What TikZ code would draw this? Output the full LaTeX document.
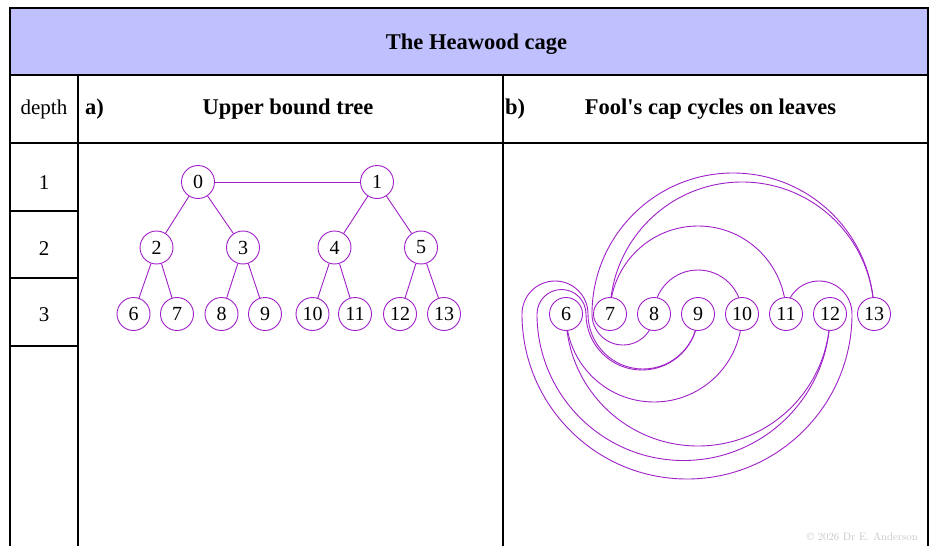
\documentclass[tikz,border=0pt]{standalone}
\usepackage{fontspec}
\newfontfamily\tnr{Liberation Serif}
\usetikzlibrary{backgrounds}
\definecolor{purp}{RGB}{160,32,200}
\definecolor{headfill}{RGB}{192,192,255}
\definecolor{notegray}{RGB}{200,200,200}
\begin{document}
\begin{tikzpicture}[x=1pt,y=-1pt,
  frame/.style={line width=2.4pt, black},
  edge/.style={draw=purp, line width=0.9pt},
  vtx/.style={circle, draw=purp, fill=white, line width=0.9pt, minimum size=33pt,
    inner sep=0pt, font=\tnr\fontsize{20}{20}\selectfont},
  hdr/.style={inner sep=0pt, font=\tnr\bfseries\fontsize{22.5}{27}\selectfont},
  plain/.style={inner sep=0pt, font=\tnr\fontsize{21}{24}\selectfont}]
\useasboundingbox (0,0) rectangle (930,546);

% table text
\node[hdr] (title) at (476.5,44) {The Heawood cage};
\node[plain] (depthhead) at (44,109.5) {depth};
\node[hdr, anchor=west] (tagA) at (85,109.5) {a)};
\node[hdr] (headA) at (288,109.5) {Upper bound tree};
\node[hdr, anchor=west] (tagB) at (505,109.5) {b)};
\node[hdr] (headB) at (710.5,109.5) {Fool's cap cycles on leaves};
\node[plain] (d1) at (44,183) {1};
\node[plain] (d2) at (44,248.5) {2};
\node[plain] (d3) at (44,314.5) {3};
\node[anchor=south east, inner sep=0pt, text=notegray,
  font=\fontsize{10.8}{12}\selectfont] (note) at (918,541) {\textcopyright{} 2026 Dr E. Anderson};

% a) upper bound tree
\node[vtx] (a0) at (198,182) {0};
\node[vtx] (a1) at (377,182) {1};
\node[vtx] (a2) at (156.5,247.5) {2};
\node[vtx] (a3) at (243,247.5) {3};
\node[vtx] (a4) at (334.5,247.5) {4};
\node[vtx] (a5) at (421,247.5) {5};
\node[vtx] (a6) at (133.5,314) {6};
\node[vtx] (a7) at (177,314) {7};
\node[vtx] (a8) at (221.5,314) {8};
\node[vtx] (a9) at (265,314) {9};
\node[vtx] (a10) at (312.5,314) {10};
\node[vtx] (a11) at (355,314) {11};
\node[vtx] (a12) at (400,314) {12};
\node[vtx] (a13) at (444,314) {13};
\draw[edge] (a0) -- (a1);
\draw[edge] (a0) -- (a2);
\draw[edge] (a0) -- (a3);
\draw[edge] (a1) -- (a4);
\draw[edge] (a1) -- (a5);
\draw[edge] (a2) -- (a6);
\draw[edge] (a2) -- (a7);
\draw[edge] (a3) -- (a8);
\draw[edge] (a3) -- (a9);
\draw[edge] (a4) -- (a10);
\draw[edge] (a4) -- (a11);
\draw[edge] (a5) -- (a12);
\draw[edge] (a5) -- (a13);

% b) leaves joined by half-circle chains
\node[vtx] (b6) at (566,314) {6};
\node[vtx] (b7) at (610,314) {7};
\node[vtx] (b8) at (654,314) {8};
\node[vtx] (b9) at (698,314) {9};
\node[vtx] (b10) at (742,314) {10};
\node[vtx] (b11) at (786,314) {11};
\node[vtx] (b12) at (830,314) {12};
\node[vtx] (b13) at (874,314) {13};

\begin{scope}[on background layer]
  \fill[white] (0,0) rectangle (930,546);
  % header band and grid
  \fill[headfill] (10,8) rectangle (928,75);
  \draw[frame] (10,546) -- (10,8) -- (928,8) -- (928,546);
  \draw[frame] (10,75) -- (928,75);
  \draw[frame] (10,143) -- (928,143);
  \draw[frame] (78,75) -- (78,546);
  \draw[frame] (503,75) -- (503,546);
  \draw[frame] (10,211) -- (78,211);
  \draw[frame] (10,278) -- (78,278);
  \draw[frame] (10,346) -- (78,346);

  % arcs above the row
  \draw[edge] (b8.center) arc[start angle=180, end angle=360, radius=44];
  \draw[edge] (b7.center) arc[start angle=180, end angle=360, radius=88];
  \draw[edge] (b7.center) arc[start angle=180, end angle=360, radius=132];
  \draw[edge] (b13.center) arc[start angle=0, end angle=-180, radius=141]
                           arc[start angle=180, end angle=0, radius=31];
  % arcs below the row
  \draw[edge] (b6.center) arc[start angle=180, end angle=0, radius=88];
  \draw[edge] (b6.center) arc[start angle=180, end angle=0, radius=132];
  % fool's cap loops around 6
  \draw[edge] (b9.center) arc[start angle=0, end angle=180, radius=56]
                          arc[start angle=0, end angle=-180, radius=24.5]
                          arc[start angle=180, end angle=0, radius=146.5];
  \draw[edge] (b9.center) arc[start angle=0, end angle=180, radius=55]
                          arc[start angle=0, end angle=-180, radius=33]
                          arc[start angle=180, end angle=0, radius=165]
                          arc[start angle=0, end angle=-180, radius=33];
\end{scope}
\end{tikzpicture}
\end{document}
